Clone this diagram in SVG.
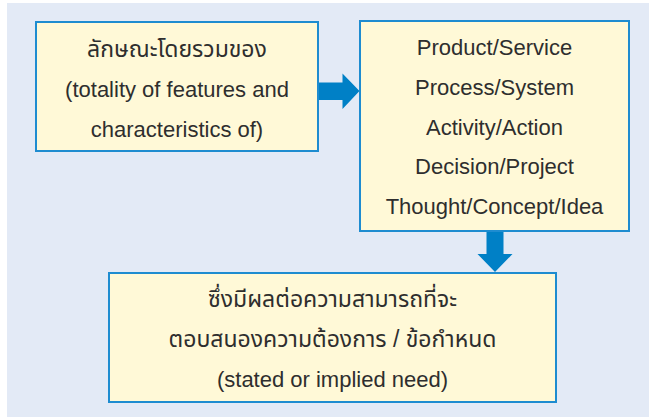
<svg xmlns="http://www.w3.org/2000/svg" width="649" height="417" viewBox="0 0 649 417">
<style>
.box{fill:#FFF9D7;stroke:#1E8CD0;stroke-width:2}
.t{font-family:"Liberation Sans","Noto Sans Thai","Noto Sans",sans-serif;font-size:22px;fill:#2E2E2E;text-anchor:middle}
.th{font-size:23px}
.arrow{fill:#0080C6}
</style>
<rect x="7" y="3" width="642" height="414" fill="#E3EAF6"/>
<g id="connectors">
<polygon class="arrow" points="319,82.5 342.5,82.5 342.5,73.5 359.5,91 342.5,109 342.5,100 319,100"/>
<polygon class="arrow" points="486.5,232 503.5,232 503.5,254 512.5,254 495,272 477.5,254 486.5,254"/>
</g>
<g id="node-totality">
<rect class="box" x="36" y="22" width="282" height="129"/>
<text class="t th" x="177" y="57">ลักษณะโดยรวมของ</text>
<text class="t" x="177" y="97">(totality of features and</text>
<text class="t" x="177" y="137">characteristics of)</text>
</g>
<g id="node-objects">
<rect class="box" x="360" y="21" width="269" height="210"/>
<text class="t" x="494.5" y="55">Product/Service</text>
<text class="t" x="494.5" y="95">Process/System</text>
<text class="t" x="494.5" y="134.5">Activity/Action</text>
<text class="t" x="494.5" y="174">Decision/Project</text>
<text class="t" x="494.5" y="213.5">Thought/Concept/Idea</text>
</g>
<g id="node-need">
<rect class="box" x="109" y="273" width="447" height="129"/>
<text class="t th" x="332.5" y="307">ซึ่งมีผลต่อความสามารถที่จะ</text>
<text class="t th" x="332.5" y="347">ตอบสนองความต้องการ / ข้อกำหนด</text>
<text class="t" x="332.5" y="387">(stated or implied need)</text>
</g>
</svg>
